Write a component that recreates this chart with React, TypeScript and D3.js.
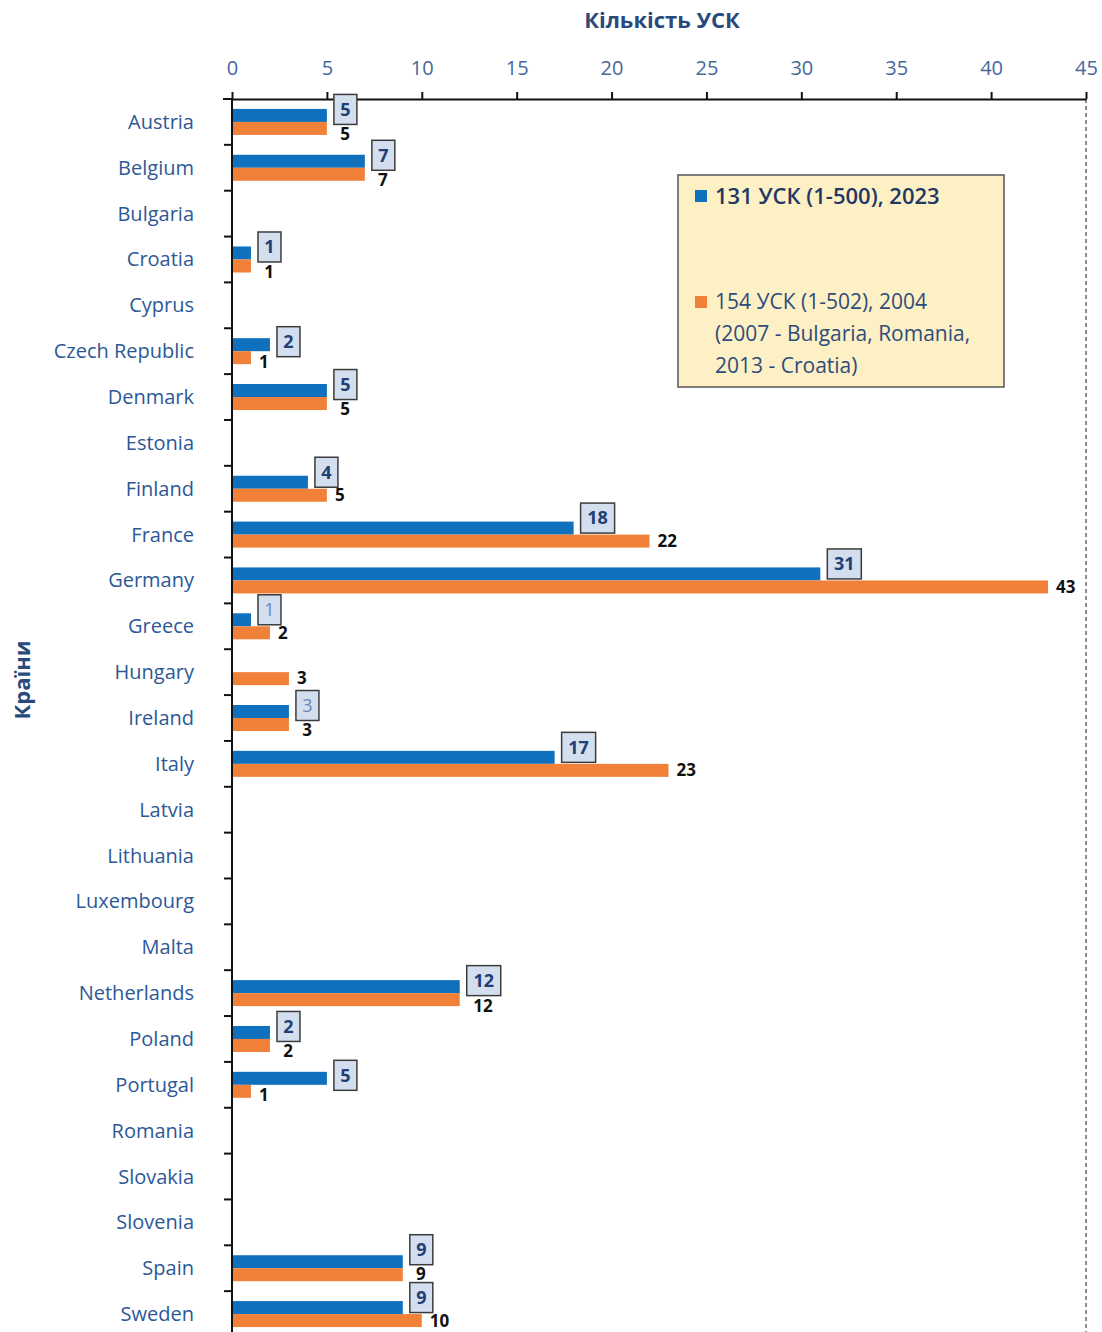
import React, { useEffect, useRef } from 'react';
import * as d3 from 'd3';

const countries = [
  'Austria', 'Belgium', 'Bulgaria', 'Croatia', 'Cyprus', 'Czech Republic', 'Denmark',
  'Estonia', 'Finland', 'France', 'Germany', 'Greece', 'Hungary', 'Ireland', 'Italy',
  'Latvia', 'Lithuania', 'Luxembourg', 'Malta', 'Netherlands', 'Poland', 'Portugal',
  'Romania', 'Slovakia', 'Slovenia', 'Spain', 'Sweden',
];
const counts2023 = [5, 7, 0, 1, 0, 2, 5, 0, 4, 18, 31, 1, 0, 3, 17, 0, 0, 0, 0, 12, 2, 5, 0, 0, 0, 9, 9];
const counts2004 = [5, 7, 0, 1, 0, 1, 5, 0, 5, 22, 43, 2, 3, 3, 23, 0, 0, 0, 0, 12, 2, 1, 0, 0, 0, 9, 10];
// labels drawn in the paler style
const paleLabels = ['Greece', 'Ireland'];
const xTicks = [0, 5, 10, 15, 20, 25, 30, 35, 40, 45];
const legend2023 = ['131 УСК (1-500), 2023'];
const legend2004 = ['154 УСК (1-502), 2004', '(2007 - Bulgaria, Romania,', '2013 - Croatia)'];

const FONT = '"Open Sans", "Noto Sans", sans-serif';

const App = () => {
  const svgRef = useRef<SVGSVGElement>(null);

  useEffect(() => {
    const svg = d3.select(svgRef.current);
    svg.selectAll('*').remove();

    const width = 1102;
    const height = 1332;
    const left = 232;
    const right = 1086;
    const top = 99;
    const bottom = 1337;

    const blue = '#0f70bd';
    const orange = '#f18139';
    const axisText = '#46689c';
    const catText = '#2d5896';

    const x = d3.scaleLinear().domain([0, 45]).range([left, right]);
    const y = d3.scaleBand().domain(countries).range([top, bottom]);
    const band = y.bandwidth();
    const barH = 13;
    const pad = (band - 2 * barH) / 2;

    svg.attr('width', width).attr('height', height).style('font-family', FONT);

    // titles
    svg.append('text')
      .attr('x', 662).attr('y', 20).attr('dy', '0.35em')
      .attr('text-anchor', 'middle')
      .attr('font-size', 22).attr('font-weight', 'bold')
      .attr('fill', '#2a4a7c')
      .text('Кількість УСК');

    svg.append('text')
      .attr('transform', 'translate(22,680) rotate(-90)')
      .attr('dy', '0.35em')
      .attr('text-anchor', 'middle')
      .attr('font-size', 22).attr('font-weight', 'bold')
      .attr('fill', '#2a4a7c')
      .text('Країни');

    // dashed right border
    svg.append('line')
      .attr('x1', right).attr('x2', right)
      .attr('y1', top).attr('y2', height)
      .attr('stroke', '#444').attr('stroke-width', 1.2)
      .attr('stroke-dasharray', '4,3');

    // top axis
    const xAxis = svg.append('g')
      .attr('transform', `translate(0,${top})`)
      .call(d3.axisTop(x).tickValues(xTicks).tickSize(7).tickSizeOuter(0));
    xAxis.select('.domain').attr('stroke', '#111').attr('stroke-width', 2);
    xAxis.selectAll('.tick line').attr('stroke', '#111').attr('stroke-width', 2);
    xAxis.selectAll('.tick text')
      .attr('y', -24).attr('dy', '0')
      .attr('font-size', 20).attr('font-family', FONT)
      .attr('fill', axisText);

    // y axis
    svg.append('line')
      .attr('x1', left).attr('x2', left)
      .attr('y1', top - 1).attr('y2', height)
      .attr('stroke', '#111').attr('stroke-width', 2);
    svg.append('line')
      .attr('x1', left - 9).attr('x2', left)
      .attr('y1', top).attr('y2', top)
      .attr('stroke', '#111').attr('stroke-width', 2);
    svg.selectAll('.ytick')
      .data(countries)
      .join('line')
      .attr('class', 'ytick')
      .attr('x1', left - 8).attr('x2', left)
      .attr('y1', d => (y(d) as number) + band)
      .attr('y2', d => (y(d) as number) + band)
      .attr('stroke', '#111').attr('stroke-width', 2);

    svg.selectAll('.ylabel')
      .data(countries)
      .join('text')
      .attr('class', 'ylabel')
      .attr('x', 194)
      .attr('y', d => (y(d) as number) + band / 2)
      .attr('dy', '0.35em')
      .attr('text-anchor', 'end')
      .attr('font-size', 20)
      .attr('fill', catText)
      .text(d => d);

    const boxH = 30;
    const boxW = (v: number) => 12 + 11 * String(v).length;

    // where each 2004 label goes, and whether the next row's box squeezes it
    const rows = countries.map((c, i) => {
      const a = counts2023[i];
      const b = counts2004[i];
      const txt = String(b);
      const tw = 10.5 * txt.length;
      let lx = x(b) + 8;
      if (a > 0 && a === b) lx = x(a) + 7 + boxW(a) / 2 - tw / 2;
      return { c, a, b, txt, tw, lx, squeezed: false };
    });
    rows.forEach((r, i) => {
      const next = rows[i + 1];
      if (r.b > 0 && next && next.a > 0) {
        const nx = x(next.a) + 7;
        r.squeezed = r.lx < nx + boxW(next.a) && r.lx + r.tw > nx;
      }
    });

    // bars
    const g = svg.append('g');
    g.selectAll('.bar23')
      .data(rows.filter(r => r.a > 0))
      .join('rect')
      .attr('x', left + 1)
      .attr('y', r => (y(r.c) as number) + pad)
      .attr('width', r => x(r.a) - left - 1)
      .attr('height', barH)
      .attr('fill', blue);
    g.selectAll('.bar04')
      .data(rows.filter(r => r.b > 0))
      .join('rect')
      .attr('x', left + 1)
      .attr('y', r => (y(r.c) as number) + pad + barH)
      .attr('width', r => x(r.b) - left - 1)
      .attr('height', barH)
      .attr('fill', orange);

    // boxed labels for 2023 (lifted more when the 2004 bar is longer)
    const lift = (r: any) => (r.squeezed ? 12 : r.b > r.a ? 10 : r.b < r.a ? 3 : 6);
    rows.filter(r => r.a > 0).forEach(r => {
      const bx = x(r.a) + 7;
      const cy = (y(r.c) as number) + pad + barH / 2 - lift(r);
      const w = boxW(r.a);
      const pale = paleLabels.includes(r.c);
      svg.append('rect')
        .attr('x', bx).attr('y', cy - boxH / 2)
        .attr('width', w).attr('height', boxH)
        .attr('fill', '#d3deef')
        .attr('stroke', '#3c3c3c').attr('stroke-width', 1.5);
      svg.append('text')
        .attr('x', bx + w / 2).attr('y', cy)
        .attr('dy', '0.35em')
        .attr('text-anchor', 'middle')
        .attr('font-size', 18)
        .attr('font-weight', pale ? 'normal' : 'bold')
        .attr('fill', pale ? '#6a86b4' : '#1f3f75')
        .text(r.a);
    });

    // plain labels for 2004
    rows.filter(r => r.b > 0).forEach(r => {
      const cy = (y(r.c) as number) + pad + barH * 1.5;
      let dy = 0;
      if (r.a > 0 && r.lx < x(r.a) + 7 + boxW(r.a)) dy = r.b < r.a ? 4 : r.b === r.a ? 6 : 0;
      if (r.squeezed) dy = -1;
      svg.append('text')
        .attr('x', r.lx).attr('y', cy + dy)
        .attr('dy', '0.35em')
        .attr('font-size', 17)
        .attr('font-weight', 'bold')
        .attr('fill', '#111')
        .text(r.txt);
    });

    // legend
    const lg = svg.append('g');
    lg.append('rect')
      .attr('x', 678).attr('y', 175)
      .attr('width', 326).attr('height', 212)
      .attr('fill', '#fdf0c4')
      .attr('stroke', '#555').attr('stroke-width', 1.5);
    lg.append('rect')
      .attr('x', 695).attr('y', 190).attr('width', 12).attr('height', 12)
      .attr('fill', blue);
    lg.selectAll('.l23')
      .data(legend2023)
      .join('text')
      .attr('x', 715).attr('y', (d, i) => 196 + i * 32)
      .attr('dy', '0.35em')
      .attr('font-size', 22).attr('font-weight', 600)
      .attr('fill', '#1f3864')
      .text(d => d);
    lg.append('rect')
      .attr('x', 695).attr('y', 296).attr('width', 12).attr('height', 12)
      .attr('fill', orange);
    lg.selectAll('.l04')
      .data(legend2004)
      .join('text')
      .attr('x', 715).attr('y', (d, i) => 302 + i * 32)
      .attr('dy', '0.35em')
      .attr('font-size', 21)
      .attr('fill', '#2e4c7c')
      .text(d => d);
  }, []);

  return (
    <svg ref={svgRef} style={{ position: 'absolute', left: 0, top: 0, background: '#fff' }} />
  );
};

export default App;
